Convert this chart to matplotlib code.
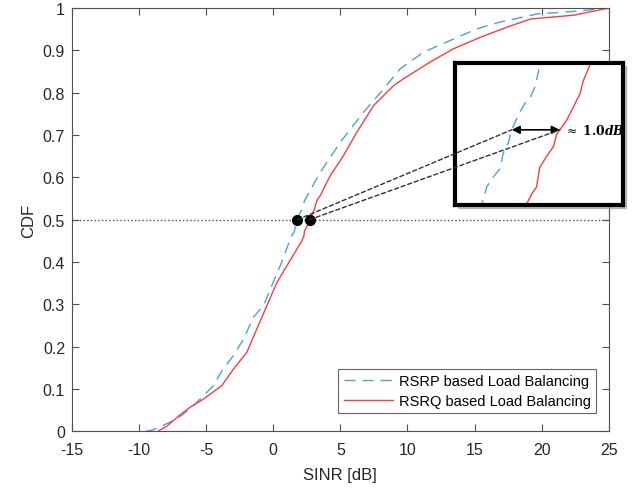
import numpy as np
import matplotlib.pyplot as plt
from matplotlib.patches import ConnectionPatch, Rectangle

plt.rcParams['font.family'] = ['Liberation Sans', 'DejaVu Sans']
plt.rcParams['mathtext.fontset'] = 'dejavuserif'
plt.rcParams['axes.unicode_minus'] = False

# RSRP based (dashed blue) - CDF points
sinr_rsrp = [-9.5, -9.0, -8.68, -7.19, -6.19, -5.2, -4.45, -3.83, -2.96, -2.21, -1.47,
             -0.72, -0.22, 0.52, 1.14, 1.25, 1.33, 1.45, 1.58, 1.64, 1.74, 1.80, 1.93,
             2.05, 2.15, 2.24, 2.32, 3.51, 5.0, 6.74, 8.23, 9.48, 11.22, 13.46, 15.2,
             16.94, 19.68, 22.41, 25.0]
cdf_rsrp = [0.0, 0.003, 0.007, 0.029, 0.053, 0.084, 0.108, 0.143, 0.179, 0.218, 0.27,
            0.297, 0.336, 0.391, 0.443, 0.448, 0.459, 0.466, 0.472, 0.483, 0.491, 0.5, 0.511,
            0.519, 0.523, 0.531, 0.544, 0.612, 0.683, 0.754, 0.809, 0.857, 0.896, 0.927, 0.951,
            0.967, 0.986, 0.992, 1.0]

# RSRQ based (solid red)
sinr_rsrq = [-8.56, -7.93, -6.94, -6.19, -5.2, -3.83, -2.96, -1.96, -1.22, -0.47, 0.28,
             1.02, 2.10, 2.18, 2.27, 2.33, 2.46, 2.59, 2.65, 2.71, 2.84, 2.96, 3.09, 3.15,
             3.28, 3.51, 4.25, 5.25, 6.24, 7.49, 8.98, 9.72, 11.72, 13.46, 15.45, 17.44,
             19.18, 22.41, 25.0]
cdf_rsrq = [0.001, 0.012, 0.039, 0.057, 0.076, 0.108, 0.147, 0.187, 0.242, 0.297, 0.352,
            0.391, 0.448, 0.454, 0.459, 0.473, 0.481, 0.488, 0.497, 0.5, 0.507, 0.516, 0.526, 0.535,
            0.547, 0.557, 0.604, 0.652, 0.707, 0.77, 0.817, 0.833, 0.873, 0.904, 0.931, 0.955,
            0.974, 0.983, 1.0]

x50 = [1.8, 2.71]   # SINR at CDF 0.5
gap_text = r"$\approx\ \mathbf{1.0}\mathbfit{dB}$"

blue = '#4f9fd8'
red = '#ff3b3b'
grey = '#505050'

fig = plt.figure(figsize=(6.41, 4.89), dpi=100)
ax = fig.add_axes([0.1123, 0.116, 0.8373, 0.8656])

ax.plot(sinr_rsrp, cdf_rsrp, '--', color=blue, lw=1, dashes=(8, 5), label='RSRP based Load Balancing')
ax.plot(sinr_rsrq, cdf_rsrq, '-', color=red, lw=1, label='RSRQ based Load Balancing')
ax.plot([-15, 25], [0.5, 0.5], ':', color=grey, lw=1)
ax.plot(x50, [0.5, 0.5], 'o', color='black', ms=7, zorder=5)

ax.set_xlim(-15, 25)
ax.set_ylim(0, 1)
ax.set_xticks(np.arange(-15, 26, 5))
ax.set_yticks(np.arange(0, 1.01, 0.1))
ax.set_yticklabels(['0', '0.1', '0.2', '0.3', '0.4', '0.5', '0.6', '0.7', '0.8', '0.9', '1'])
ax.tick_params(direction='in', length=5, top=True, right=True, colors=grey,
               labelcolor='#262626', labelsize=11.5)
ax.tick_params(axis='x', pad=8)
ax.tick_params(axis='y', pad=5)
for s in ax.spines.values():
    s.set_color(grey)
ax.set_xlabel('SINR [dB]', fontsize=12, color='#262626', labelpad=7)
ax.set_ylabel('CDF', fontsize=12, color='#262626', labelpad=5)

leg = ax.legend(loc='lower right', fontsize=10.5, handlelength=3.4, frameon=True,
                fancybox=False, borderpad=0.35, labelspacing=0.4, handletextpad=0.4,
                bbox_to_anchor=(0.99, 0.026))
leg.get_frame().set_edgecolor('#404040')
leg.get_frame().set_linewidth(0.8)

# shadow behind the zoom box
fig.patches.append(Rectangle((0.7098 + 0.005, 0.5787 - 0.007), 0.262, 0.2904,
                             transform=fig.transFigure, color='#9a9a9a', alpha=0.6, zorder=3))

axin = fig.add_axes([0.7098, 0.5787, 0.262, 0.2904], zorder=4)
axin.plot(sinr_rsrp, cdf_rsrp, '--', color=blue, lw=1, dashes=(8, 5))
axin.plot(sinr_rsrq, cdf_rsrq, '-', color=red, lw=1)
axin.set_xlim(0.73, 3.90)
axin.set_ylim(0.446, 0.548)
axin.set_xticks([])
axin.set_yticks([])
for s in axin.spines.values():
    s.set_linewidth(3)
    s.set_color('black')
axin.annotate('', xy=(x50[0], 0.5), xytext=(x50[1], 0.5),
              arrowprops=dict(arrowstyle='<|-|>', color='black', lw=1.2,
                              mutation_scale=12, shrinkA=0, shrinkB=0))
axin.text(x50[1] + 0.08, 0.5, gap_text, fontsize=8.8, va='center', ha='left',
          clip_on=False, zorder=20)

for xv in x50:
    con = ConnectionPatch(xyA=(xv, 0.5), coordsA=ax.transData,
                          xyB=(xv, 0.5), coordsB=axin.transData,
                          linestyle=(0, (3, 2)), color='#303030', lw=1)
    con.set_zorder(10)
    fig.add_artist(con)

fig.savefig('out.png', dpi=100)
